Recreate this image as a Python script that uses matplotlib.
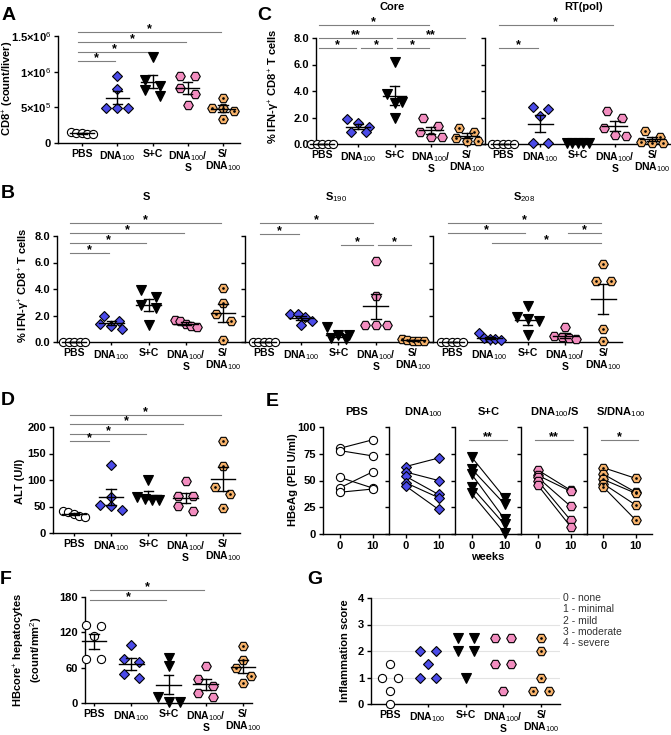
import numpy as np
import matplotlib
matplotlib.use('Agg')
import matplotlib.pyplot as plt

W, H = 671, 735

plt.rcParams['font.family'] = 'Liberation Sans'
plt.rcParams['font.weight'] = 'bold'
plt.rcParams['axes.labelweight'] = 'bold'
plt.rcParams['mathtext.fontset'] = 'custom'
plt.rcParams['mathtext.rm'] = 'Liberation Sans:weight=normal'
plt.rcParams['mathtext.bf'] = 'Liberation Sans:weight=bold'

# ---- data ----
groups = ['PBS', 'DNA100', 'S+C', 'DNA100/S', 'S/DNA100']
tick_labels = ['PBS', r'DNA$_{\mathrm{100}}$', 'S+C',
               'DNA$_{\\mathrm{100}}$/\nS', 'S/\nDNA$_{\\mathrm{100}}$']
e_titles = ['PBS', r'DNA$_{\mathrm{100}}$', 'S+C',
            r'DNA$_{\mathrm{100}}$/S', r'S/DNA$_{\mathrm{100}}$']

cd8_liver = [[1.6e5, 1.45e5, 1.35e5, 1.25e5, 1.2e5],
             [9.4e5, 7.6e5, 4.9e5, 4.9e5, 4.9e5],
             [1.2e6, 8.8e5, 8.0e5, 7.5e5, 6.6e5],
             [9.4e5, 9.4e5, 7.7e5, 6.8e5, 5.3e5],
             [6.3e5, 4.9e5, 4.9e5, 4.5e5, 3.3e5]]

ifn_core = [[0, 0, 0, 0, 0], [1.9, 1.6, 1.3, 0.9, 0.9], [6.2, 3.8, 3.2, 3.1, 2.0],
            [1.95, 1.35, 0.9, 0.5, 0.5], [1.2, 0.9, 0.45, 0.25, 0.25]]
ifn_rt = [[0, 0, 0, 0, 0], [2.8, 2.65, 2.15, 0.05, 0.05], [0.05, 0.05, 0.05, 0.05, 0.05],
          [2.5, 1.95, 1.2, 0.65, 0.6], [0.95, 0.55, 0.15, 0.1, 0.1]]
ifn_s = [[0, 0, 0, 0, 0], [2.0, 1.6, 1.35, 1.2, 1.0], [3.9, 3.4, 2.8, 2.6, 1.3],
         [1.65, 1.6, 1.35, 1.2, 1.15], [4.1, 2.95, 2.15, 1.55, 0.15]]
ifn_s190 = [[0, 0, 0, 0, 0], [2.15, 2.1, 1.85, 1.55, 1.3], [1.1, 0.55, 0.5, 0.3, 0.25],
            [6.1, 3.5, 1.3, 1.3, 1.3], [0.2, 0.15, 0.1, 0.1, 0.05]]
ifn_s208 = [[0, 0, 0, 0, 0], [0.65, 0.3, 0.25, 0.2, 0.15], [2.7, 1.85, 1.7, 1.6, 0.5],
            [1.1, 0.45, 0.35, 0.3, 0.25], [5.9, 4.6, 4.6, 1.0, 0.1]]
alt = [[42, 40, 36, 32, 30], [128, 68, 52, 51, 43], [100, 67, 64, 63, 62],
       [98, 69, 69, 51, 42], [174, 126, 86, 74, 48]]
hbeag_w0 = [[80, 78, 53, 43, 39], [63, 58, 54, 48, 45], [72, 61, 56, 44, 38],
            [60, 55, 53, 50, 46], [62, 56, 51, 47, 44]]
hbeag_w10 = [[88, 73, 43, 58, 42], [71, 50, 37, 34, 23], [34, 28, 14, 9, 1],
             [41, 40, 26, 13, 7], [52, 39, 38, 27, 13]]
hbcore = [[132, 131, 113, 74, 74], [99, 74, 70, 49, 42], [77, 62, 10, 2, 2],
          [62, 41, 29, 17, 10], [96, 73, 59, 46, 34]]
inflammation = [[1.5, 1, 1, 0.5, 0], [2, 2, 1.5, 1, 1], [2.5, 2.5, 2, 2, 1],
                [2.5, 2.5, 1.5, 1.5, 0.5], [2.5, 2, 1, 0.5, 0.5]]
score_legend = ['0 - none', '1 - minimal', '2 - mild', '3 - moderate', '4 - severe']

# significance: (group i, group j, height, label)
sig_a = [(0, 1, 1.15e6, '*'), (0, 2, 1.28e6, '*'), (0, 3, 1.42e6, '*'), (0, 4, 1.56e6, '*')]
sig_core = [(0, 1, 7.25, '*'), (1, 2, 7.25, '*'), (2, 3, 7.25, '*'),
            (0, 2, 8.0, '**'), (2, 4, 8.0, '**'), (0, 3, 8.95, '*')]
sig_rt = [(0, 1, 7.25, '*'), (0, 3, 8.95, '*')]
sig_s = [(0, 1, 6.69, '*'), (0, 2, 7.45, '*'), (0, 3, 8.25, '*'), (0, 4, 9.0, '*')]
sig_s190 = [(0, 1, 8.15, '*'), (0, 3, 8.95, '*'), (2, 3, 7.3, '*'), (3, 4, 7.3, '*')]
sig_s208 = [(0, 4, 8.95, '*'), (0, 2, 8.2, '*'), (3, 4, 8.2, '*'), (1, 4, 7.45, '*')]
sig_alt = [(0, 1, 173, '*'), (0, 2, 186, '*'), (0, 3, 206, '*'), (0, 4, 223, '*')]
sig_hbeag = ['', '', '**', '**', '*']
sig_hbcore = [(0, 2, 175, '*'), (0, 3, 192, '*')]

# ---- styles ----
BLUE = '#4b4be8'
PINK = '#f28dbf'
ORANGE = '#f6b26b'
mk = [dict(marker='o', ms=5.9, mfc='white'),
      dict(marker='D', ms=5.0, mfc=BLUE),
      dict(marker='v', ms=6.6, mfc='black'),
      dict(marker='H', ms=6.9, mfc=PINK),
      dict(marker='H', ms=6.9, mfc=ORANGE)]


def add_axes(fig, l, t, r, b):
    return fig.add_axes([l / W, 1 - b / H, (r - l) / W, (b - t) / H])


def style(ax, xlim, ylim, yticks, yticklabels, ylabels_on=True):
    ax.set_xlim(xlim)
    ax.set_ylim(ylim)
    for s in ['top', 'right']:
        ax.spines[s].set_visible(False)
    for s in ['left', 'bottom']:
        ax.spines[s].set_linewidth(1.0)
    ax.set_yticks(yticks)
    ax.set_yticklabels(yticklabels)
    ax.tick_params(direction='out', length=3, width=1, labelsize=8, pad=2)
    ax.tick_params(axis='x', length=2.5, pad=2, labelsize=7.5)
    ax.tick_params(labelleft=ylabels_on)
    ax.patch.set_alpha(0)


def spread(ax, vals, max_step, max_span, bin_px):
    # horizontal offsets (data units) so that close values sit side by side
    pos = ax.get_position()
    x0, x1 = ax.get_xlim()
    y0, y1 = ax.get_ylim()
    xs = pos.width * W / (x1 - x0)
    ys = pos.height * H / (y1 - y0)
    vals = np.asarray(vals, dtype=float)
    order = np.argsort(-vals, kind='stable')
    bins = []
    for idx in order:
        if bins and (vals[bins[-1][0]] - vals[idx]) * ys < bin_px:
            bins[-1].append(idx)
        else:
            bins.append([idx])
    offs = np.zeros(len(vals))
    for b in bins:
        n = len(b)
        if n == 1:
            continue
        step = min(max_step, max_span / (n - 1))
        for k, idx in enumerate(b):
            offs[idx] = (k - (n - 1) / 2) * step / xs
    return offs


def draw_markers(ax, x, y, g):
    ax.plot(x, y, ls='none', mec='black', mew=0.8, zorder=3, clip_on=False, **mk[g])
    if g == 4:
        ax.plot(x, y, ls='none', marker='.', ms=1.8, color='black', zorder=4, clip_on=False)


def dot_panel(ax, data, sigs=(), means=True, max_step=15, max_span=22, bin_px=8):
    for g, vals in enumerate(data):
        vals = np.asarray(vals, dtype=float)
        offs = spread(ax, vals, max_step, max_span, bin_px)
        draw_markers(ax, g + offs, vals, g)
        if means:
            m = vals.mean()
            se = vals.std(ddof=1) / np.sqrt(len(vals))
            kw = dict(color='black', lw=1.0, zorder=5, clip_on=False)
            ax.plot([g - 0.33, g + 0.33], [m, m], **kw)
            ax.plot([g, g], [m - se, m + se], **kw)
            ax.plot([g - 0.13, g + 0.13], [m - se, m - se], **kw)
            ax.plot([g - 0.13, g + 0.13], [m + se, m + se], **kw)
    for i, j, y, lab in sigs:
        xa = i - 0.1 if i == 0 else i + 0.06
        xb = j - 0.06
        ax.plot([xa, xb], [y, y], color='#7f7f7f', lw=0.8, clip_on=False, zorder=2)
        ax.annotate(lab, xy=((xa + xb) / 2, y), xytext=(0, 2), textcoords='offset points',
                    ha='center', va='center', fontsize=9, annotation_clip=False)
    ax.set_xticks(range(len(data)))
    ax.set_xticklabels(tick_labels, linespacing=0.95)


def letter(fig, s, x, y):
    fig.text(x / W, 1 - y / H, s, fontsize=14, fontweight='bold', ha='left', va='center')


def ylabel(fig, s, x, y):
    fig.text(x / W, 1 - y / H, s, fontsize=8, fontweight='bold', rotation=90,
             ha='center', va='center', linespacing=1.1)


def title(fig, s, x, y):
    fig.text(x / W, 1 - y / H, s, fontsize=8, fontweight='bold', ha='center', va='center')


fig = plt.figure(figsize=(W / 100, H / 100), dpi=100)

# ---- A ----
ax = add_axes(fig, 58, 36, 240, 143)
style(ax, (-0.68, 4.48), (0, 1.5e6), [0, 5e5, 1e6, 1.5e6],
      ['0', '5×10$^{5}$', '1×10$^{6}$', '1.5×10$^{6}$'])
dot_panel(ax, cd8_liver, sig_a)
letter(fig, 'A', 2, 15)
ylabel(fig, 'CD8$^{+}$ (count/liver)', 8, 88)

# ---- C ----
yt = [0, 2, 4, 6, 8]
ytl = ['%.1f' % v for v in yt]
ax = add_axes(fig, 316, 38, 485, 144)
style(ax, (-0.17, 4.5), (0, 8), yt, ytl)
dot_panel(ax, ifn_core, sig_core)
ax = add_axes(fig, 485, 38, 670, 144)
style(ax, (-0.48, 4.48), (0, 8), yt, ytl, ylabels_on=False)
dot_panel(ax, ifn_rt, sig_rt)
title(fig, 'Core', 392, 7)
title(fig, 'RT(pol)', 584, 7)
letter(fig, 'C', 257, 16)
ylabel(fig, '% IFN-γ$^{+}$ CD8$^{+}$ T cells', 274, 86)

# ---- B ----
b_axes = [(57, 245, (-0.46, 4.59), ifn_s, sig_s, 'S', 146),
          (245, 433, (-0.51, 4.54), ifn_s190, sig_s190, r'S$_{\mathrm{190}}$', 336),
          (433, 622, (-0.5, 4.5), ifn_s208, sig_s208, r'S$_{\mathrm{208}}$', 524)]
for k, (l, r, xl, d, sg, tt, tx) in enumerate(b_axes):
    ax = add_axes(fig, l, 236, r, 342)
    style(ax, xl, (0, 8), yt, ytl, ylabels_on=(k == 0))
    dot_panel(ax, d, sg)
    title(fig, tt, tx, 197)
letter(fig, 'B', 1, 194)
ylabel(fig, '% IFN-γ$^{+}$ CD8$^{+}$ T cells', 24, 285)

# ---- D ----
ax = add_axes(fig, 53, 427, 240, 533)
style(ax, (-0.56, 4.46), (0, 200), [0, 50, 100, 150, 200], ['0', '50', '100', '150', '200'])
dot_panel(ax, alt, sig_alt)
letter(fig, 'D', 1, 400)
ylabel(fig, 'ALT (U/l)', 20, 481)

# ---- E ----
e_edges = [323, 389, 455, 521, 587, 652]
for k in range(5):
    ax = add_axes(fig, e_edges[k], 427, e_edges[k + 1], 534)
    style(ax, (-5, 15), (0, 100), [0, 25, 50, 75, 100], ['0', '25', '50', '75', '100'],
          ylabels_on=(k == 0))
    for a, b in zip(hbeag_w0[k], hbeag_w10[k]):
        ax.plot([0, 10], [a, b], color='black', lw=0.8, zorder=2)
    draw_markers(ax, np.zeros(5), hbeag_w0[k], k)
    draw_markers(ax, np.full(5, 10.0), hbeag_w10[k], k)
    if sig_hbeag[k]:
        ax.plot([-0.8, 10.8], [88, 88], color='#7f7f7f', lw=0.8, clip_on=False)
        ax.annotate(sig_hbeag[k], xy=(5, 88), xytext=(0, 2), textcoords='offset points',
                    ha='center', va='center', fontsize=9, annotation_clip=False)
    ax.set_xticks([0, 10])
    ax.set_xticklabels(['0', '10'])
    ax.tick_params(axis='x', length=3, labelsize=8)
    title(fig, e_titles[k], (e_edges[k] + e_edges[k + 1]) / 2 + 1, 412)
letter(fig, 'E', 266, 401)
ylabel(fig, 'HBeAg (PEI U/ml)', 293, 480)
fig.text(488 / W, 1 - 557 / H, 'weeks', fontsize=8, fontweight='bold', ha='center', va='center')

# ---- F ----
ax = add_axes(fig, 85, 597, 252, 703)
style(ax, (-0.24, 4.24), (0, 180), [0, 60, 120, 180], ['0', '60', '120', '180'])
dot_panel(ax, hbcore, sig_hbcore)
letter(fig, 'F', 0, 579)
ylabel(fig, 'HBcore$^{+}$ hepatocytes\n(count/mm$^{2}$)', 28, 650)

# ---- G ----
ax = add_axes(fig, 371, 598, 560, 704)
style(ax, (-0.5, 4.5), (0, 4), [0, 1, 2, 3, 4], ['0', '1', '2', '3', '4'])
ax.yaxis.grid(True, color='#e3e3e3', lw=0.8)
ax.set_axisbelow(True)
dot_panel(ax, inflammation, means=False, max_step=16, max_span=40, bin_px=1)
for k, s in enumerate(score_legend):
    fig.text(563 / W, 1 - (598 + 11.3 * k) / H, s, fontsize=7.5, fontweight='normal',
             color='#333333', ha='left', va='center')
letter(fig, 'G', 307, 579)
ylabel(fig, 'Inflammation score', 345, 651)

fig.savefig('out.png', dpi=100)
